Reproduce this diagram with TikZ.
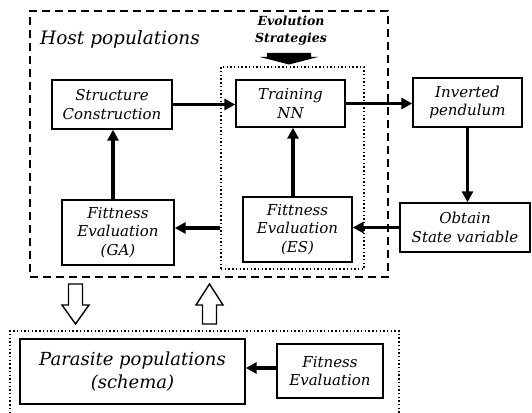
\documentclass[tikz,border=0pt]{standalone}
\usepackage{fontspec}
\setmainfont{DejaVu Serif}
\usetikzlibrary{arrows.meta}
\newcommand\mybxfont{\fontsize{15}{18.5}\selectfont\itshape}
\tikzset{
  box/.style={draw, line width=1.4pt, inner sep=0pt, align=center, font=\mybxfont},
  conn/.style={line width=3.5pt, -{Triangle[length=11pt,width=11pt]}},
  hostframe/.style={draw, line width=1.3pt, dash pattern=on 8pt off 5pt, inner sep=0pt},
  dotframe/.style={draw, line width=1.1pt, dash pattern=on 1.4pt off 2.3pt, inner sep=0pt},
  hollow/.style={draw, line width=1.4pt, fill=white, line join=miter}
}
\begin{document}
\begin{tikzpicture}[x=1pt,y=-1pt]
\useasboundingbox[fill=white] (0,0) rectangle (532,412);
% frames
\node[hostframe, minimum width=358pt, minimum height=266pt] (hostbox) at (209,144) {};
\node[dotframe, minimum width=143pt, minimum height=202pt] (esbox) at (292.5,168) {};
\node[dotframe, minimum width=389pt, minimum height=85pt] (parbox) at (204.5,373.5) {};
% labels
\node[anchor=base west, font=\fontsize{18.5}{22}\selectfont\itshape, inner sep=0pt] (host) at (40,45) {Host populations};
\node[align=center, font=\fontsize{12.5}{17}\selectfont\bfseries\itshape, inner sep=0pt] (evo) at (291,31) {Evolution\\Strategies};
\fill (267,53) -- (311,53) -- (311,57) -- (318,57) -- (289,64.5) -- (260,57) -- (267,57) -- cycle;
% boxes
\node[box, minimum width=120pt, minimum height=49pt] (sc) at (112,104.5) {Structure\\Construction};
\node[box, minimum width=109pt, minimum height=47pt] (tnn) at (290.5,103.5) {Training\\NN};
\node[box, minimum width=109pt, minimum height=49pt] (ip) at (467.5,102.5) {Inverted\\pendulum};
\node[box, minimum width=130pt, minimum height=49pt] (obt) at (465,227.5) {Obtain\\State variable};
\node[box, minimum width=109pt, minimum height=65pt] (fes) at (297.5,229.5) {Fittness\\Evaluation\\(ES)};
\node[box, minimum width=112pt, minimum height=65pt] (ga) at (118,232.5) {Fittness\\Evaluation\\(GA)};
\node[box, minimum width=225pt, minimum height=65pt, font=\fontsize{18}{23}\selectfont\itshape] (par) at (132.5,371.5) {Parasite populations\\(schema)};
\node[box, minimum width=106pt, minimum height=54pt] (fe) at (330,371) {Fitness\\Evaluation};
% connectors
\draw[conn] (sc.east) -- (sc.east -| tnn.west);
\draw[conn] (tnn.east) -- (tnn.east -| ip.west);
\draw[conn] (ip.south) -- (ip.south |- obt.north);
\draw[conn] (obt.west) -- (obt.west -| fes.east);
\draw[conn] ([xshift=-4.5pt]fes.north) -- ([xshift=-4.5pt]fes.north |- tnn.south);
\draw[conn] ([yshift=4.5pt]ga.east -| esbox.west) -- ([yshift=4.5pt]ga.east);
\draw[conn] ([xshift=-5pt]ga.north) -- ([xshift=-5pt]ga.north |- sc.south);
\draw[conn] ([yshift=3pt]fe.west) -- ([yshift=3pt]fe.west -| par.east);
% hollow arrows
\draw[hollow] (68.5,284) -- (82.5,284) -- (82.5,305) -- (89,305) -- (75.5,324) -- (62,305) -- (68.5,305) -- cycle;
\draw[hollow] (209.5,284) -- (223,305) -- (216.5,305) -- (216.5,324) -- (202.5,324) -- (202.5,305) -- (196,305) -- cycle;
\end{tikzpicture}
\end{document}
